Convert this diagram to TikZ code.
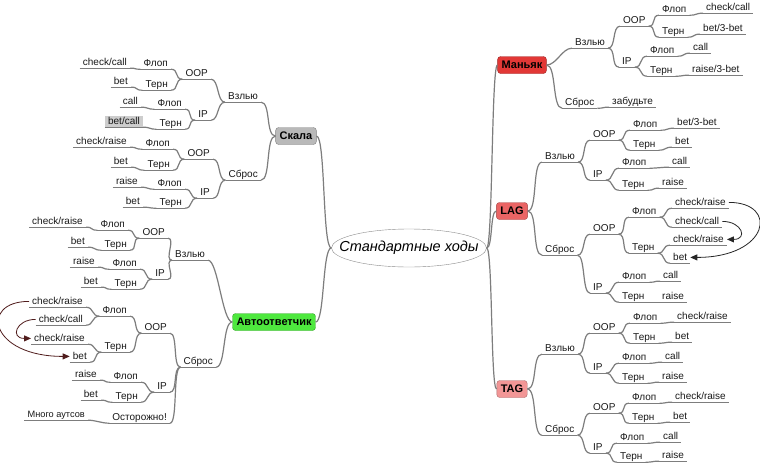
\documentclass[tikz,border=0pt]{standalone}
\usepackage{fontspec}
\setmainfont{Liberation Sans}
\usetikzlibrary{shapes.geometric,arrows.meta}

\definecolor{linegray}{RGB}{125,125,125}
\definecolor{txt}{RGB}{25,25,25}
\definecolor{mnkred}{RGB}{226,56,54}
\definecolor{lagred}{RGB}{234,100,100}
\definecolor{tagpink}{RGB}{242,150,150}
\definecolor{sklgray}{RGB}{185,185,185}
\definecolor{autgreen}{RGB}{78,232,62}
\definecolor{hilite}{RGB}{205,205,205}
\definecolor{jumpbrown}{RGB}{80,28,28}

\begin{document}
\begin{tikzpicture}[x=1pt, y=-1pt,
    branch/.style={draw=linegray, line width=1.2pt},
    lbl/.style={font=\fontsize{10}{12}\selectfont, text=txt, inner xsep=3pt, inner ysep=1pt,
        text height=7.2pt, text depth=2pt,
        append after command={(\tikzlastnode.south west) edge[branch] (\tikzlastnode.south east)}},
    rl/.style={lbl, anchor=base west},
    ll/.style={lbl, anchor=base east},
    mainbox/.style={draw=#1!70!black, fill=#1, rounded corners=3pt, text=black,
        font=\bfseries\fontsize{11}{13}\selectfont, inner xsep=4pt, inner ysep=0pt, minimum height=17pt},
    jump/.style={draw=#1, line width=0.8pt, -{Triangle[length=7pt,width=6pt]}}]

    \useasboundingbox[fill=white] (0,0) rectangle (760,464);

    % Centre
    \node[ellipse, draw=black!45, minimum width=155pt, minimum height=38pt, inner sep=0pt,
        font=\itshape\fontsize{14.5}{16}\selectfont] (ctr) at (409,248) {\makebox[0pt]{Стандартные ходы}};

    % Main branches
    \node[mainbox=mnkred] (mnk) at (522,65) {Маньяк};
    \node[mainbox=lagred] (lag) at (512,211) {LAG};
    \node[mainbox=tagpink] (tag) at (512,389) {TAG};
    \node[mainbox=sklgray] (skl) at (296,136) {Скала};
    \node[mainbox=autgreen] (aut) at (274,322) {Автоответчик};

    % Маньяк
    \node[rl] (mnkV) at (572,45) {Взлью};
    \node[rl] (mnkVo) at (620,23) {OOP};
    \node[rl] (mnkVof) at (659,12) {Флоп};
    \node[rl] (mnkVofa) at (703,10) {check/call};
    \node[rl] (mnkVot) at (659,34) {Терн};
    \node[rl] (mnkVota) at (700,31) {bet/3-bet};
    \node[rl] (mnkVi) at (619,64) {IP};
    \node[rl] (mnkVif) at (647,53) {Флоп};
    \node[rl] (mnkVifa) at (690,50) {call};
    \node[rl] (mnkVit) at (647,73) {Терн};
    \node[rl] (mnkVita) at (689,72) {raise/3-bet};
    \node[rl] (mnkS) at (562,105) {Сброс};
    \node[rl] (mnkSa) at (609,104) {забудьте};

    % LAG
    \node[rl] (lagV) at (542,159) {Взлью};
    \node[rl] (lagVo) at (590,137) {OOP};
    \node[rl] (lagVof) at (630,127) {Флоп};
    \node[rl] (lagVofa) at (674,125) {bet/3-bet};
    \node[rl] (lagVot) at (630,147) {Терн};
    \node[rl] (lagVota) at (672,144) {bet};
    \node[rl] (lagVi) at (590,177) {IP};
    \node[rl] (lagVif) at (619,165) {Флоп};
    \node[rl] (lagVifa) at (669,164) {call};
    \node[rl] (lagVit) at (619,187) {Терн};
    \node[rl] (lagVita) at (659,185) {raise};
    \node[rl] (lagS) at (542,252) {Сброс};
    \node[rl] (lagSo) at (590,231) {OOP};
    \node[rl] (lagSof) at (629,214) {Флоп};
    \node[rl] (lagSofa) at (672,205) {check/raise};
    \node[rl] (lagSofb) at (672,224) {check/call};
    \node[rl] (lagSot) at (629,250) {Терн};
    \node[rl] (lagSota) at (670,242) {check/raise};
    \node[rl] (lagSotb) at (670,260) {bet};
    \node[rl] (lagSi) at (590,290) {IP};
    \node[rl] (lagSif) at (619,279) {Флоп};
    \node[rl] (lagSifa) at (660,278) {call};
    \node[rl] (lagSit) at (619,299) {Терн};
    \node[rl] (lagSita) at (659,299) {raise};

    % TAG
    \node[rl] (tagV) at (542,351) {Взлью};
    \node[rl] (tagVo) at (590,330) {OOP};
    \node[rl] (tagVof) at (630,320) {Флоп};
    \node[rl] (tagVofa) at (674,319) {check/raise};
    \node[rl] (tagVot) at (630,340) {Терн};
    \node[rl] (tagVota) at (672,339) {bet};
    \node[rl] (tagVi) at (590,370) {IP};
    \node[rl] (tagVif) at (619,360) {Флоп};
    \node[rl] (tagVifa) at (662,359) {call};
    \node[rl] (tagVit) at (619,380) {Терн};
    \node[rl] (tagVita) at (659,379) {raise};
    \node[rl] (tagS) at (542,432) {Сброс};
    \node[rl] (tagSo) at (590,410) {OOP};
    \node[rl] (tagSof) at (629,400) {Флоп};
    \node[rl] (tagSofa) at (672,399) {check/raise};
    \node[rl] (tagSot) at (629,420) {Терн};
    \node[rl] (tagSota) at (670,419) {bet};
    \node[rl] (tagSi) at (590,450) {IP};
    \node[rl] (tagSif) at (617,440) {Флоп};
    \node[rl] (tagSifa) at (660,439) {call};
    \node[rl] (tagSit) at (617,459) {Терн};
    \node[rl] (tagSita) at (659,458) {raise};

    % Скала
    \node[ll] (sklV) at (261,99) {Взлью};
    \node[ll] (sklVo) at (211,76) {OOP};
    \node[ll] (sklVof) at (171,66) {Флоп};
    \node[ll] (sklVofa) at (130,65) {check/call};
    \node[ll] (sklVot) at (171,87) {Терн};
    \node[ll] (sklVota) at (131,84) {bet};
    \node[ll] (sklVi) at (211,117) {IP};
    \node[ll] (sklVif) at (185,106) {Флоп};
    \node[ll] (sklVifa) at (141,104) {call};
    \node[ll] (sklVit) at (185,126) {Терн};
    \node[ll, fill=hilite] (sklVita) at (143,124) {bet/call};
    \node[ll] (sklS) at (261,177) {Сброс};
    \node[ll] (sklSo) at (213,156) {OOP};
    \node[ll] (sklSof) at (173,146) {Флоп};
    \node[ll] (sklSofa) at (130,144) {check/raise};
    \node[ll] (sklSot) at (173,167) {Терн};
    \node[ll] (sklSota) at (131,164) {bet};
    \node[ll] (sklSi) at (213,195) {IP};
    \node[ll] (sklSif) at (185,186) {Флоп};
    \node[ll] (sklSifa) at (141,184) {raise};
    \node[ll] (sklSit) at (185,205) {Терн};
    \node[ll] (sklSita) at (143,204) {bet};

    % Автоответчик
    \node[ll] (autV) at (208,257) {Взлью};
    \node[ll] (autVo) at (168,235) {OOP};
    \node[ll] (autVof) at (128,227) {Флоп};
    \node[ll] (autVofa) at (86,224) {check/raise};
    \node[ll] (autVot) at (130,247) {Терн};
    \node[ll] (autVota) at (88,244) {bet};
    \node[ll] (autVi) at (168,276) {IP};
    \node[ll] (autVif) at (140,266) {Флоп};
    \node[ll] (autVifa) at (98,264) {raise};
    \node[ll] (autVit) at (140,286) {Терн};
    \node[ll] (autVita) at (101,284) {bet};
    \node[ll] (autS) at (216,364) {Сброс};
    \node[ll] (autSo) at (170,330) {OOP};
    \node[ll] (autSof) at (130,313) {Флоп};
    \node[ll] (autSofa) at (86,304) {check/raise};
    \node[ll] (autSofb) at (86,322) {check/call};
    \node[ll] (autSot) at (130,349) {Терн};
    \node[ll] (autSota) at (88,341) {check/raise};
    \node[ll] (autSotb) at (90,359) {bet};
    \node[ll] (autSi) at (170,389) {IP};
    \node[ll] (autSif) at (141,379) {Флоп};
    \node[ll] (autSifa) at (100,377) {raise};
    \node[ll] (autSit) at (141,399) {Терн};
    \node[ll] (autSita) at (101,397) {bet};
    \node[ll] (autSw) at (170,420) {Осторожно!};
    \node[ll, font=\fontsize{9.2}{11}\selectfont] (autSwa) at (88,417) {Много аутсов};

    % Trunk
    \foreach \b in {mnk,lag,tag}
        \draw[branch] (ctr.east) .. controls +(6,0) and +(-6,0) .. (\b.west);
    \foreach \b in {skl,aut}
        \draw[branch] (ctr.west) .. controls +(-9,0) and +(9,0) .. (\b.east);

    % Main boxes to first level
    \foreach \a/\b in {mnk/mnkV, mnk/mnkS, lag/lagV, lag/lagS, tag/tagV, tag/tagS}
        \draw[branch] (\a.east) .. controls +(10,0) and +(-10,0) .. (\b.south west);
    \foreach \a/\b in {skl/sklV, skl/sklS, aut/autV, aut/autS}
        \draw[branch] (\a.west) .. controls +(-10,0) and +(10,0) .. (\b.south east);

    % Right side links
    \foreach \a/\b in {mnkV/mnkVo, mnkV/mnkVi, mnkVo/mnkVof, mnkVo/mnkVot, mnkVof/mnkVofa,
        mnkVot/mnkVota, mnkVi/mnkVif, mnkVi/mnkVit, mnkVif/mnkVifa, mnkVit/mnkVita, mnkS/mnkSa,
        lagV/lagVo, lagV/lagVi, lagVo/lagVof, lagVo/lagVot, lagVof/lagVofa, lagVot/lagVota,
        lagVi/lagVif, lagVi/lagVit, lagVif/lagVifa, lagVit/lagVita,
        lagS/lagSo, lagS/lagSi, lagSo/lagSof, lagSo/lagSot, lagSof/lagSofa, lagSof/lagSofb,
        lagSot/lagSota, lagSot/lagSotb, lagSi/lagSif, lagSi/lagSit, lagSif/lagSifa, lagSit/lagSita,
        tagV/tagVo, tagV/tagVi, tagVo/tagVof, tagVo/tagVot, tagVof/tagVofa, tagVot/tagVota,
        tagVi/tagVif, tagVi/tagVit, tagVif/tagVifa, tagVit/tagVita,
        tagS/tagSo, tagS/tagSi, tagSo/tagSof, tagSo/tagSot, tagSof/tagSofa, tagSot/tagSota,
        tagSi/tagSif, tagSi/tagSit, tagSif/tagSifa, tagSit/tagSita}
        \draw[branch] (\a.south east) .. controls +(8,0) and +(-8,0) .. (\b.south west);

    % Left side links
    \foreach \a/\b in {sklV/sklVo, sklV/sklVi, sklVo/sklVof, sklVo/sklVot, sklVof/sklVofa,
        sklVot/sklVota, sklVi/sklVif, sklVi/sklVit, sklVif/sklVifa, sklVit/sklVita,
        sklS/sklSo, sklS/sklSi, sklSo/sklSof, sklSo/sklSot, sklSof/sklSofa, sklSot/sklSota,
        sklSi/sklSif, sklSi/sklSit, sklSif/sklSifa, sklSit/sklSita,
        autV/autVo, autV/autVi, autVo/autVof, autVo/autVot, autVof/autVofa, autVot/autVota,
        autVi/autVif, autVi/autVit, autVif/autVifa, autVit/autVita,
        autS/autSo, autS/autSi, autS/autSw, autSo/autSof, autSo/autSot, autSof/autSofa,
        autSof/autSofb, autSot/autSota, autSot/autSotb, autSi/autSif, autSi/autSit,
        autSif/autSifa, autSit/autSita, autSw/autSwa}
        \draw[branch] (\a.south west) .. controls +(-8,0) and +(8,0) .. (\b.south east);

    % Jumps
    \draw[jump=black!85] (lagSofa.east) .. controls +(50,0) and +(79,0) .. (lagSotb.east);
    \draw[jump=black!85] (lagSofb.east) .. controls +(20,0) and +(21,0) .. (lagSota.east);
    \draw[jump=jumpbrown] (autSofa.west) .. controls +(-50,0) and +(-80,0) .. (autSotb.west);
    \draw[jump=jumpbrown] (autSofb.west) .. controls +(-20,0) and +(-21,0) .. (autSota.west);
\end{tikzpicture}
\end{document}
